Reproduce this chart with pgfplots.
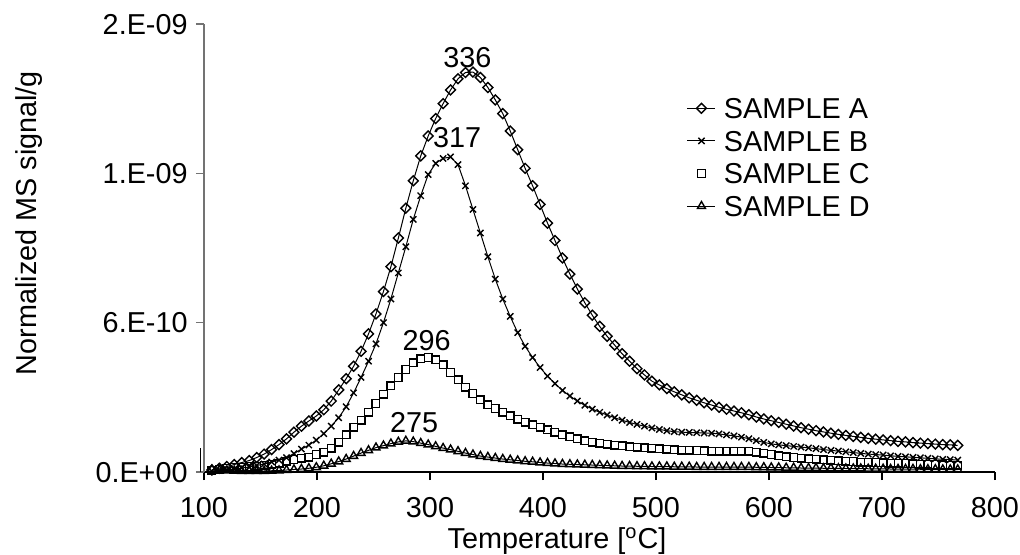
\documentclass[border=0pt]{standalone}
\usepackage{pgfplots}
\usepackage{pgfplotstable}
\usepackage{fontspec}
\setmainfont{Liberation Sans}
\pgfplotsset{compat=1.18}

\pgfplotstableread{
T A B C D
107.0 0.08 0.03 0.08 0.10
113.6 0.15 0.06 0.12 0.08
120.2 0.22 0.09 0.15 0.06
126.8 0.30 0.12 0.18 0.05
133.4 0.38 0.16 0.20 0.04
140.0 0.46 0.20 0.22 0.04
146.6 0.58 0.26 0.24 0.04
153.2 0.72 0.32 0.27 0.04
159.8 0.90 0.40 0.31 0.05
166.4 1.10 0.48 0.36 0.06
173.0 1.33 0.58 0.43 0.08
179.6 1.60 0.74 0.50 0.10
186.2 1.84 0.92 0.55 0.12
192.8 2.05 1.08 0.60 0.15
199.4 2.25 1.28 0.70 0.19
206.0 2.50 1.54 0.80 0.25
212.6 2.85 1.84 0.96 0.33
219.2 3.30 2.18 1.20 0.42
225.8 3.75 2.62 1.50 0.52
232.4 4.25 3.18 1.80 0.64
239.0 4.85 3.80 2.08 0.76
245.6 5.55 4.45 2.40 0.87
252.2 6.35 5.15 2.75 0.98
258.8 7.25 6.00 3.12 1.06
265.4 8.25 6.95 3.47 1.14
272.0 9.40 8.00 3.80 1.21
278.6 10.60 9.05 4.12 1.25
285.2 11.70 10.15 4.38 1.22
291.8 12.70 11.10 4.55 1.16
298.4 13.50 11.95 4.60 1.10
305.0 14.20 12.40 4.50 1.03
311.6 14.80 12.60 4.30 0.96
318.2 15.35 12.66 4.00 0.90
324.8 15.80 12.35 3.70 0.83
331.4 16.05 11.50 3.40 0.76
338.0 16.07 10.55 3.15 0.70
344.6 15.85 9.60 2.90 0.64
351.2 15.45 8.65 2.70 0.60
357.8 14.95 7.75 2.55 0.56
364.4 14.40 6.95 2.40 0.52
371.0 13.70 6.25 2.25 0.49
377.6 12.95 5.60 2.12 0.46
384.2 12.20 5.05 2.00 0.43
390.8 11.50 4.60 1.90 0.41
397.4 10.75 4.20 1.80 0.38
404.0 10.00 3.85 1.69 0.36
410.6 9.30 3.55 1.60 0.34
417.2 8.60 3.28 1.50 0.32
423.8 7.95 3.05 1.42 0.31
430.4 7.35 2.85 1.34 0.30
437.0 6.80 2.68 1.26 0.29
443.6 6.30 2.53 1.20 0.28
450.2 5.85 2.40 1.15 0.27
456.8 5.45 2.29 1.11 0.26
463.4 5.10 2.18 1.08 0.25
470.0 4.75 2.08 1.05 0.24
476.6 4.45 1.99 1.02 0.24
483.2 4.15 1.91 0.99 0.23
489.8 3.90 1.84 0.97 0.23
496.4 3.65 1.77 0.95 0.22
503.0 3.50 1.71 0.93 0.22
509.6 3.35 1.66 0.91 0.22
516.2 3.22 1.62 0.89 0.21
522.8 3.10 1.60 0.88 0.21
529.4 2.98 1.59 0.87 0.21
536.0 2.88 1.58 0.86 0.20
542.6 2.78 1.57 0.85 0.20
549.2 2.69 1.56 0.84 0.20
555.8 2.60 1.53 0.84 0.20
562.4 2.52 1.49 0.84 0.20
569.0 2.45 1.45 0.84 0.20
575.6 2.38 1.40 0.84 0.20
582.2 2.30 1.34 0.83 0.20
588.8 2.21 1.26 0.80 0.19
595.4 2.13 1.19 0.76 0.19
602.0 2.06 1.13 0.70 0.18
608.6 1.99 1.09 0.65 0.18
615.2 1.92 1.06 0.61 0.17
621.8 1.85 1.03 0.58 0.17
628.4 1.78 1.00 0.55 0.16
635.0 1.72 0.97 0.53 0.16
641.6 1.66 0.94 0.51 0.16
648.2 1.61 0.90 0.49 0.15
654.8 1.56 0.87 0.47 0.15
661.4 1.51 0.84 0.45 0.15
668.0 1.47 0.81 0.43 0.14
674.6 1.43 0.78 0.42 0.14
681.2 1.39 0.75 0.40 0.14
687.8 1.35 0.72 0.39 0.13
694.4 1.32 0.70 0.38 0.13
701.0 1.29 0.68 0.37 0.13
707.6 1.26 0.65 0.36 0.12
714.2 1.23 0.63 0.35 0.12
720.8 1.21 0.61 0.34 0.12
727.4 1.18 0.59 0.33 0.12
734.0 1.16 0.57 0.32 0.11
740.6 1.14 0.55 0.31 0.11
747.2 1.12 0.53 0.30 0.11
753.8 1.10 0.51 0.29 0.10
760.4 1.09 0.50 0.28 0.10
767.0 1.07 0.48 0.27 0.10
}\datatable

\begin{document}
\begin{tikzpicture}[font=\fontsize{14.4}{17}\selectfont]
\begin{axis}[
  scale only axis, width=395.5pt, height=224pt,
  xmin=100, xmax=800, ymin=0, ymax=18,
  axis x line*=bottom, axis y line*=left,
  x axis line style={black, line width=0.6pt, -},
  y axis line style={black!55, line width=0.6pt, -},
  xtick={100,200,300,400,500,600,700,800},
  xticklabels={100,200,300,400,500,600,700,800},
  ytick={0,6,12,18},
  yticklabels={0.E+00,6.E-10,1.E-09,2.E-09},
  tick align=outside, major tick length=4pt,
  xtick style={black, line width=0.6pt},
  ytick style={black!55, line width=0.6pt},
  xticklabel style={anchor=north, inner sep=0pt, text height=10.3pt, text depth=0pt, yshift=-8pt},
  yticklabel style={anchor=east, inner sep=0pt, text height=10.3pt, text depth=0pt, xshift=-4pt},
  clip=false,
  xlabel={Temperature [\textsuperscript{o}C]},
  ylabel={Normalized MS signal/g},
  every axis x label/.style={at={(axis description cs:0.4463,-0.1485)}, anchor=center, inner sep=0pt, text height=10.3pt, text depth=0pt},
  every axis y label/.style={at={(axis description cs:-0.2212,0.5558)}, anchor=center, rotate=90, inner sep=0pt},
  legend style={at={(axis description cs:0.6106,0.8348)}, anchor=north west, draw=none, fill=none,
    inner sep=0pt, outer sep=0pt, row sep=6pt, column sep=4pt,
    nodes={inner sep=0pt, text height=10.3pt, text depth=0pt, anchor=west}},
  legend cell align=left,
]
\addplot[black, line width=0.5pt, mark=square, mark size=1.75pt,
  mark options={rotate=45, solid, fill=white, line width=0.7pt},
  legend image code/.code={\draw[mark repeat=2,mark phase=2] plot coordinates {(0pt,0pt) (7pt,0pt) (14pt,0pt)};}]
  table[x=T, y=A] {\datatable};
\addlegendentry{SAMPLE A}
\addplot[black, line width=0.5pt, mark=x, mark size=2.2pt,
  mark options={solid, line width=0.7pt},
  legend image code/.code={\draw[mark repeat=2,mark phase=2] plot coordinates {(0pt,0pt) (7pt,0pt) (14pt,0pt)};}]
  table[x=T, y=B] {\datatable};
\addlegendentry{SAMPLE B}
\addplot[black, only marks, mark=square, mark size=1.9pt,
  mark options={solid, fill=white, line width=0.7pt},
  legend image code/.code={\draw plot coordinates {(7pt,0pt)};}]
  table[x=T, y=C] {\datatable};
\addlegendentry{SAMPLE C}
\addplot[black, line width=0.5pt, mark=triangle, mark size=2.3pt,
  mark options={solid, fill=white, line width=0.7pt},
  legend image code/.code={\draw[mark repeat=2,mark phase=2] plot coordinates {(0pt,0pt) (7pt,0pt) (14pt,0pt)};}]
  table[x=T, y=D] {\datatable};
\addlegendentry{SAMPLE D}
\addplot[black, line width=0.5pt, forget plot] coordinates {(96.5,0) (96.5,0.96)};
\node at (axis cs:333,16.67) {336};
\node at (axis cs:324,13.42) {317};
\node at (axis cs:297,5.3) {296};
\node at (axis cs:286,2.0) {275};
\end{axis}
\pgfresetboundingbox
\path[use as bounding box] (-102pt,-41.5pt) rectangle (408pt,236pt);
\end{tikzpicture}
\end{document}
